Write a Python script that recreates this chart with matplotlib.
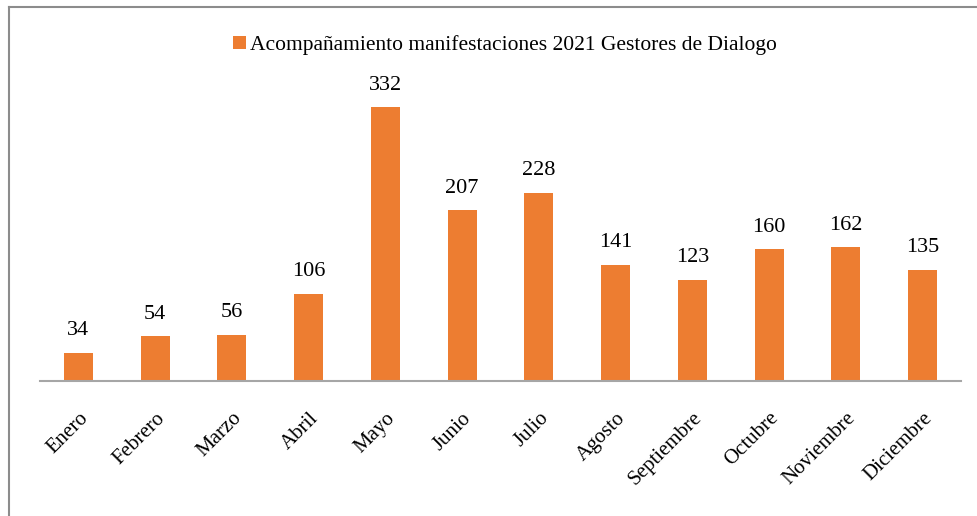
import matplotlib
matplotlib.use("Agg")
from matplotlib import pyplot as plt
from matplotlib.lines import Line2D

months = ["Enero", "Febrero", "Marzo", "Abril", "Mayo", "Junio", "Julio",
          "Agosto", "Septiembre", "Octubre", "Noviembre", "Diciembre"]
values = [34, 54, 56, 106, 332, 207, 228, 141, 123, 160, 162, 135]
series_name = "Acompañamiento manifestaciones 2021 Gestores de Dialogo"

plt.rcParams["font.family"] = ["Liberation Serif", "DejaVu Serif"]

fig = plt.figure(figsize=(9.78, 5.16), dpi=100)
W, H = 978, 516

# axes: x from 40 to 961 px, baseline at y=381 px
ax = fig.add_axes([40 / W, (H - 381) / H, 921 / W, 300 / H])
bars = ax.bar(range(len(months)), values, width=0.38, color="#ED7D31",
              label=series_name)
ax.set_xlim(-0.5, len(months) - 0.5)
ax.set_ylim(0, 300 / 0.825)

for b, v in zip(bars, values):
    ax.annotate(str(v), (b.get_x() + b.get_width() / 2, v),
                xytext=(0, 9), textcoords="offset points",
                ha="center", va="bottom", fontsize=16)

for s in ["top", "right", "left"]:
    ax.spines[s].set_visible(False)
ax.spines["bottom"].set_color("#A6A6A6")
ax.spines["bottom"].set_linewidth(1.5)
ax.set_yticks([])
ax.set_xticks(range(len(months)))
ax.set_xticklabels(months, rotation=45, ha="right", rotation_mode="anchor",
                   fontsize=15)
ax.tick_params(axis="x", length=0, pad=20)

fig.legend(handles=[bars], labels=[series_name], loc="center",
           bbox_to_anchor=(505 / W, (H - 45) / H), frameon=False,
           fontsize=15.5, handlelength=0.6, handleheight=0.6,
           handletextpad=0.2)

# outer chart border (top and left visible)
fig.add_artist(Line2D([9 / W, 1], [(H - 7) / H, (H - 7) / H],
                      color="#8C8C8C", linewidth=1.5))
fig.add_artist(Line2D([9 / W, 9 / W], [0, (H - 7) / H],
                      color="#8C8C8C", linewidth=1.5))

fig.savefig("out.png", dpi=100)
plt.close(fig)
